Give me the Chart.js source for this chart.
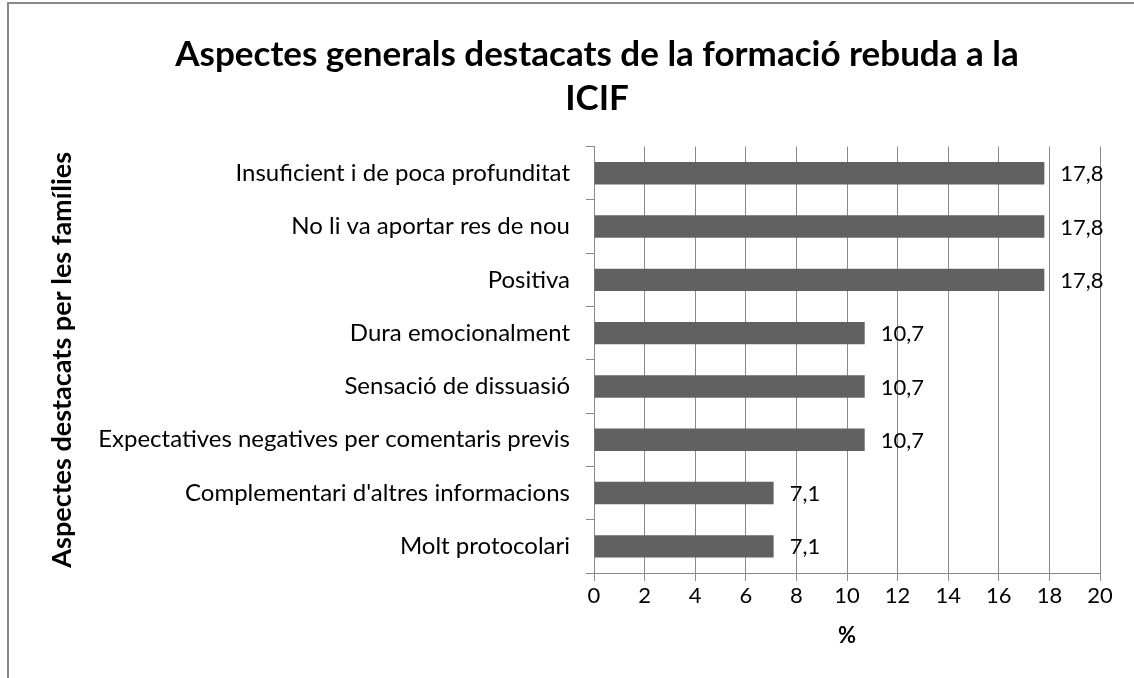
<!DOCTYPE html>
<html>
<head>
<meta charset="utf-8">
<script src="https://cdn.jsdelivr.net/npm/chart.js@4/dist/chart.umd.min.js"></script>
<style>
html,body{margin:0;padding:0;background:#fff;}
#wrap{position:relative;width:1134px;height:678px;}
</style>
</head>
<body>
<div id="wrap"><canvas id="c" width="1134" height="678"></canvas></div>
<script>
const categories = [
  "Insuficient i de poca profunditat",
  "No li va aportar res de nou",
  "Positiva",
  "Dura emocionalment",
  "Sensació de dissuasió",
  "Expectatives negatives per comentaris previs",
  "Complementari d'altres informacions",
  "Molt protocolari"
];
const values = [17.8, 17.8, 17.8, 10.7, 10.7, 10.7, 7.1, 7.1];
const titleLines = ["Aspectes generals destacats de la formació rebuda a la", "ICIF"];
const yTitle = "Aspectes destacats per les famílies";
const xTitle = "%";

const FONT = "Lato, 'Open Sans', sans-serif";

const borderPlugin = {
  id: 'border',
  beforeDraw(chart) {
    const ctx = chart.ctx;
    ctx.save();
    ctx.fillStyle = '#fff';
    ctx.fillRect(0, 0, chart.width, chart.height);
    ctx.strokeStyle = '#888888';
    ctx.lineWidth = 2;
    ctx.strokeRect(8, 3, 1200, 1200);
    ctx.restore();
  }
};

const valueLabels = {
  id: 'valueLabels',
  afterDatasetsDraw(chart) {
    const ctx = chart.ctx;
    const meta = chart.getDatasetMeta(0);
    ctx.save();
    ctx.font = "22px " + FONT;
    ctx.fillStyle = '#000';
    ctx.textAlign = 'left';
    ctx.textBaseline = 'middle';
    meta.data.forEach((bar, i) => {
      const txt = values[i].toFixed(1).replace('.', ',');
      ctx.fillText(txt, bar.x + 16, bar.y + 1);
    });
    ctx.restore();
  }
};

new Chart(document.getElementById('c'), {
  type: 'bar',
  data: {
    labels: categories,
    datasets: [{
      data: values,
      backgroundColor: '#616161',
      borderWidth: 0,
      categoryPercentage: 1.0,
      barPercentage: 0.42
    }]
  },
  options: {
    indexAxis: 'y',
    responsive: false,
    animation: false,
    devicePixelRatio: 1,
    layout: { padding: { left: 94, right: 34, top: 0, bottom: 0 } },
    plugins: {
      legend: { display: false },
      tooltip: { enabled: false },
      title: {
        display: true,
        text: titleLines,
        color: '#000',
        font: { family: FONT, size: 35, weight: 'bold', lineHeight: 1.28 },
        padding: { top: 32, bottom: 25 }
      }
    },
    scales: {
      x: {
        min: 0, max: 20,
        ticks: { stepSize: 2, color: '#000', font: { family: FONT, size: 22 }, padding: 2 },
        grid: { color: '#8a8a8a', lineWidth: 1, tickLength: 8, drawTicks: true },
        border: { color: '#8a8a8a', width: 1 },
        title: { display: true, text: xTitle, color: '#000', font: { family: FONT, size: 22, weight: 'bold' }, padding: { top: 4, bottom: 29 } },
        afterFit(scale) { scale.height = 105; }
      },
      y: {
        ticks: { color: '#000', font: { family: FONT, size: 24 }, padding: 16 },
        grid: { display: true, drawOnChartArea: false, color: '#8a8a8a', tickLength: 8, offset: true },
        border: { color: '#8a8a8a', width: 1 },
        title: { display: true, text: yTitle, color: '#000', font: { family: FONT, size: 27, weight: 'bold' }, padding: { top: -48.2, bottom: 0 } },
        afterFit(scale) { scale.width = 500; }
      }
    }
  },
  plugins: [borderPlugin, valueLabels]
});
</script>
</body>
</html>
